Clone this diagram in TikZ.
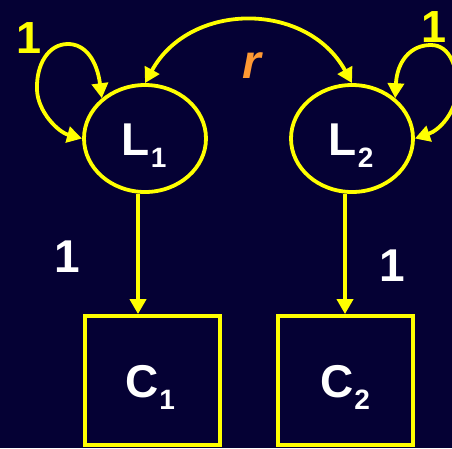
\documentclass[tikz,border=0pt]{standalone}
\usepackage{fontspec}
\setmainfont{Liberation Sans}
\usetikzlibrary{arrows.meta,shapes.geometric}
\definecolor{bg}{RGB}{5,1,52}
\definecolor{ylw}{RGB}{255,255,0}
\definecolor{org}{RGB}{255,153,51}
\newcommand\mysub[1]{\kern1pt\raisebox{-11.5pt}{\fontsize{28}{28}\selectfont #1}}
\begin{document}
\begin{tikzpicture}[x=1pt,y=-1pt,
  lat/.style={draw=ylw, line width=3.8pt, ellipse, minimum width=122pt, minimum height=107pt, inner sep=0pt},
  obs/.style={draw=ylw, line width=3.8pt, rectangle, minimum width=135pt, minimum height=129pt, inner sep=0pt},
  arr/.style={draw=ylw, line width=3.8pt, -{Triangle[length=15pt,width=16pt]}},
  dbl/.style={draw=ylw, line width=3.8pt, {Triangle[length=15pt,width=16pt]}-{Triangle[length=15pt,width=16pt]}},
  txt/.style={text=white, inner sep=0pt, font=\bfseries\fontsize{46}{46}\selectfont},
  ytxt/.style={text=ylw, inner sep=0pt, font=\bfseries\fontsize{45}{45}\selectfont},
  rtxt/.style={text=org, inner sep=0pt, font=\bfseries\itshape\fontsize{48}{48}\selectfont}]
\useasboundingbox (0,0) rectangle (452,448);
\fill[bg] (0,0) rectangle (452,448);
\clip (0,0) rectangle (452,448);

\node[lat] (L1) at (145,138.5) {};
\node[lat] (L2) at (352,138.5) {};
\node[obs] (C1) at (152.5,380.5) {};
\node[obs] (C2) at (345.5,380.5) {};

\node[txt] (L1t) at (144,145.5) {L\mysub{1}};
\node[txt] (L2t) at (351,145.5) {L\mysub{2}};
\node[txt] (C1t) at (150,387.5) {C\mysub{1}};
\node[txt] (C2t) at (345,387.5) {C\mysub{2}};

\node[txt] (w1) at (67,257) {1};
\node[txt] (w2) at (392,266) {1};
\node[ytxt] (y1) at (29,38) {1};
\node[ytxt] (y2) at (434,27) {1};
\node[rtxt] (r) at (252,66) {r};

\draw[arr] ([xshift=-7pt]L1.south) -- ([xshift=-7pt]L1.south |- C1.north);
\draw[arr] ([xshift=-7pt]L2.south) -- ([xshift=-7pt]L2.south |- C2.north);

\draw[dbl] (L1.north) .. controls (190,1) and (307,1) .. (L2.north);

\draw[dbl] (L1.137) .. controls (97,60) and (85,44) .. (68,44)
  .. controls (48,44) and (36,65) .. (37,90)
  .. controls (38,112) and (58,132) .. (L1.west);
\draw[dbl] (L2.43) .. controls (397,62) and (410,45) .. (431,45)
  .. controls (450,45) and (458,68) .. (457,90)
  .. controls (456,112) and (440,130) .. (L2.east);
\end{tikzpicture}
\end{document}
